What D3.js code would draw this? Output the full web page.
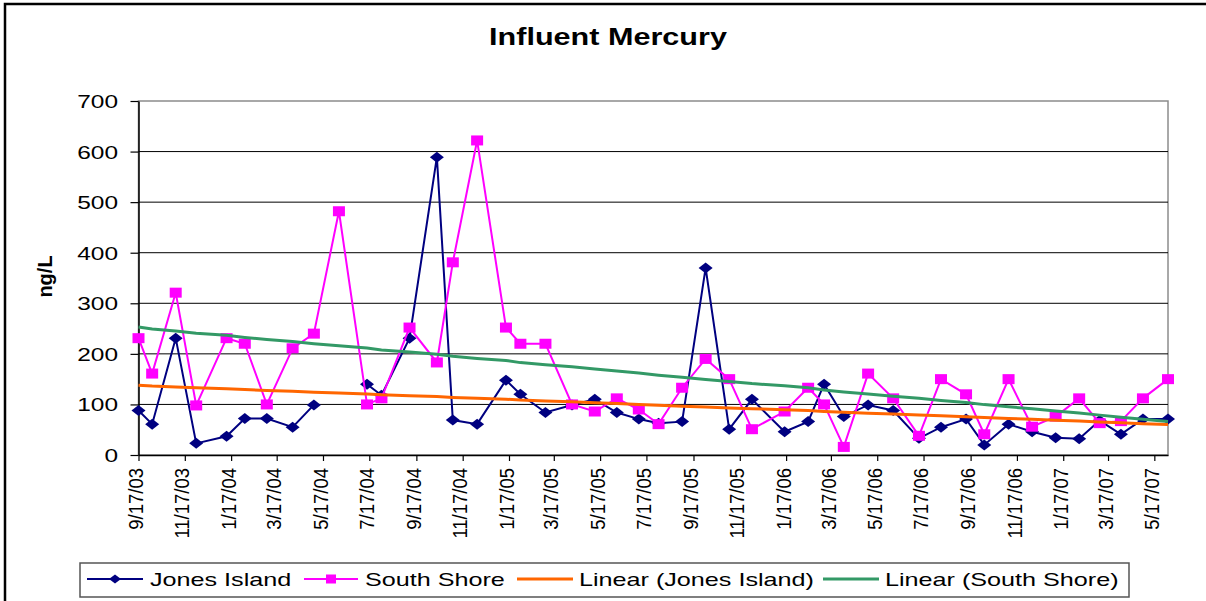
<!DOCTYPE html>
<html>
<head>
<meta charset="utf-8">
<script src="https://cdn.jsdelivr.net/npm/d3@7"></script>
<style>
  body { margin: 0; background: #fff; }
  svg text { font-family: "Liberation Sans", Arial, sans-serif; }
</style>
</head>
<body>
<svg id="plot" width="1206" height="601"></svg>
<script>
// sample dates (yyyy-mm-dd)
const sampleDates = ['2003-09-17','2003-10-05','2003-11-05','2003-12-02','2004-01-11','2004-02-04','2004-03-04','2004-04-07',
  '2004-05-05','2004-06-07','2004-07-14','2004-08-02','2004-09-08','2004-10-14','2004-11-04','2004-12-06',
  '2005-01-13','2005-02-01','2005-03-06','2005-04-10','2005-05-10','2005-06-08','2005-07-07','2005-08-02',
  '2005-09-02','2005-10-03','2005-11-03','2005-12-03','2006-01-15','2006-02-15','2006-03-08','2006-04-03',
  '2006-05-05','2006-06-07','2006-07-11','2006-08-09','2006-09-11','2006-10-05','2006-11-06','2006-12-07',
  '2007-01-07','2007-02-07','2007-03-06','2007-04-03','2007-05-02','2007-06-04']

const jonesIsland = [88,61,231,23,37,72,72,55,99,null,140,118,231,589,69,61,
  148,120,84,99,110,84,71,63,66,370,51,110,46,66,140,76,
  99,88,33,55,71,20,61,46,34,32,68,41,71,71]

const southShore = [231,161,321,98,231,220,100,211,240,482,100,112,252,183,381,622,
  252,220,220,100,86,112,90,61,133,190,150,51,86,133,100,16,
  161,112,38,150,120,41,150,56,76,112,63,67,112,150]

const xTickLabels = ['9/17/03','11/17/03','1/17/04','3/17/04','5/17/04','7/17/04','9/17/04','11/17/04',
  '1/17/05','3/17/05','5/17/05','7/17/05','9/17/05','11/17/05','1/17/06','3/17/06','5/17/06','7/17/06',
  '9/17/06','11/17/06','1/17/07','3/17/07','5/17/07']
const yTicks = [0,100,200,300,400,500,600,700]

const seriesNames = ['Jones Island','South Shore','Linear (Jones Island)','Linear (South Shore)']
const colors = {jones:'#000080', south:'#ff00ff', jonesTrend:'#ff6600', southTrend:'#339966'}

const SX = 1.36 // the picture is stretched sideways

const parseDate = d3.timeParse('%Y-%m-%d')
const parseTick = d3.timeParse('%m/%d/%y')
const dates = sampleDates.map(parseDate)
const tickDates = xTickLabels.map(parseTick)

const margin = {left: 138.5, right: 1168, top: 101, bottom: 455}

const svg = d3.select('#plot')

// outer chart border (top and left visible)
svg.append('path')
  .attr('d', 'M5,601 L5,4 L1206,4')
  .attr('fill', 'none')
  .attr('stroke', '#000')
  .attr('stroke-width', 2.5)

const x = d3.scaleTime()
  .domain([dates[0], dates[dates.length-1]])
  .range([margin.left, margin.right])
const y = d3.scaleLinear()
  .domain([0, 700])
  .range([margin.bottom, margin.top])

// plot area border
svg.append('rect')
  .attr('x', margin.left).attr('y', margin.top)
  .attr('width', margin.right - margin.left).attr('height', margin.bottom - margin.top)
  .attr('fill', '#fff').attr('stroke', '#8c8c8c').attr('stroke-width', 1.5)

// gridlines
svg.selectAll('.grid')
  .data(yTicks.filter(d => d > 0 && d < 700))
  .enter().append('line')
    .attr('x1', margin.left).attr('x2', margin.right)
    .attr('y1', d => y(d)).attr('y2', d => y(d))
    .attr('stroke', '#000').attr('stroke-width', 1)

// Y axis
const yAxis = svg.append('g')
  .attr('transform', `translate(${margin.left},0)`)
  .call(d3.axisLeft(y).tickValues(yTicks).tickSize(8).tickSizeOuter(0))
yAxis.select('.domain').attr('stroke', '#000').attr('stroke-width', 1.5)
yAxis.selectAll('.tick line').attr('stroke', '#000').attr('stroke-width', 1.2)
yAxis.selectAll('.tick text')
  .attr('x', -20.5 / SX)
  .attr('dy', '0.36em')
  .attr('transform', `scale(${SX},1)`)
  .style('font-size', '18px')
  .attr('fill', '#000')

// X axis
const xAxis = svg.append('g')
  .attr('transform', `translate(0,${margin.bottom})`)
  .call(d3.axisBottom(x).tickValues(tickDates).tickFormat(d3.timeFormat('%-m/%-d/%y')).tickSize(6).tickSizeOuter(0))
xAxis.select('.domain').attr('stroke', '#000').attr('stroke-width', 1.5)
xAxis.selectAll('.tick line').attr('stroke', '#000').attr('stroke-width', 1.2)
xAxis.selectAll('.tick text')
  .attr('y', 0).attr('x', 0).attr('dy', null)
  .attr('text-anchor', 'end')
  .attr('transform', 'translate(-3,13) rotate(-90) scale(1,1.1)')
  .attr('dy', '0.35em')
  .style('font-size', '18.5px')
  .attr('fill', '#000')

// series
const jonesData = dates.map((d, i) => ({date: d, value: jonesIsland[i]}))
const southData = dates.map((d, i) => ({date: d, value: southShore[i]}))

const line = d3.line()
  .defined(d => d.value != null)
  .x(d => x(d.date))
  .y(d => y(d.value))

// Excel style linear trend against point index
const trend = function(values) {
  const pts = values.map((v, i) => [i + 1, v]).filter(p => p[1] != null)
  const mx = d3.mean(pts, p => p[0]), my = d3.mean(pts, p => p[1])
  const b = d3.sum(pts, p => (p[0]-mx)*(p[1]-my)) / d3.sum(pts, p => (p[0]-mx)*(p[0]-mx))
  const a = my - b*mx
  return dates.map((d, i) => ({date: d, value: a + b*(i+1)}))
}

const diamond = 'M0,-5.5 L7,0 L0,5.5 L-7,0 Z'

svg.append('path')
  .datum(jonesData)
  .attr('fill', 'none').attr('stroke', colors.jones).attr('stroke-width', 2)
  .attr('d', line)
svg.selectAll('.jmark')
  .data(jonesData.filter(d => d.value != null))
  .enter().append('path')
    .attr('d', diamond)
    .attr('transform', d => `translate(${x(d.date)},${y(d.value)})`)
    .attr('fill', colors.jones)

svg.append('path')
  .datum(southData)
  .attr('fill', 'none').attr('stroke', colors.south).attr('stroke-width', 2)
  .attr('d', line)
svg.selectAll('.smark')
  .data(southData)
  .enter().append('rect')
    .attr('x', d => x(d.date) - 6).attr('y', d => y(d.value) - 5)
    .attr('width', 12).attr('height', 10)
    .attr('fill', colors.south)

svg.append('path')
  .datum(trend(jonesIsland))
  .attr('fill', 'none').attr('stroke', colors.jonesTrend).attr('stroke-width', 3)
  .attr('d', line)
svg.append('path')
  .datum(trend(southShore))
  .attr('fill', 'none').attr('stroke', colors.southTrend).attr('stroke-width', 3)
  .attr('d', line)

// title
svg.append('text')
  .attr('transform', `translate(608,45) scale(1.33,1)`)
  .attr('text-anchor', 'middle')
  .style('font-size', '23px').style('font-weight', 'bold')
  .text('Influent Mercury')

// y axis title
svg.append('text')
  .attr('transform', 'translate(45,276.5) rotate(-90) scale(1,1.05)')
  .attr('text-anchor', 'middle')
  .attr('dy', '0.35em')
  .style('font-size', '20px').style('font-weight', 'bold')
  .text('ng/L')

// legend
svg.append('rect')
  .attr('x', 80).attr('y', 563).attr('width', 1049).attr('height', 34)
  .attr('fill', '#fff').attr('stroke', '#555').attr('stroke-width', 1.5)

const legendItems = [
  {name: seriesNames[0], color: colors.jones, x1: 87, x2: 143, tx: 150, w: 2, mark: 'diamond'},
  {name: seriesNames[1], color: colors.south, x1: 304, x2: 358, tx: 365, w: 2, mark: 'square'},
  {name: seriesNames[2], color: colors.jonesTrend, x1: 517, x2: 573, tx: 579, w: 3, mark: null},
  {name: seriesNames[3], color: colors.southTrend, x1: 823, x2: 879, tx: 885, w: 3, mark: null}
]
const ly = 579
const lg = svg.selectAll('.legend')
  .data(legendItems)
  .enter().append('g')
lg.append('line')
  .attr('x1', d => d.x1).attr('x2', d => d.x2)
  .attr('y1', ly).attr('y2', ly)
  .attr('stroke', d => d.color).attr('stroke-width', d => d.w)
lg.filter(d => d.mark === 'diamond').append('path')
  .attr('d', 'M0,-4.5 L6,0 L0,4.5 L-6,0 Z')
  .attr('transform', d => `translate(${(d.x1+d.x2)/2},${ly})`)
  .attr('fill', d => d.color)
lg.filter(d => d.mark === 'square').append('rect')
  .attr('x', d => (d.x1+d.x2)/2 - 5).attr('y', ly - 4.5)
  .attr('width', 10).attr('height', 9)
  .attr('fill', d => d.color)
lg.append('text')
  .attr('transform', d => `translate(${d.tx},585.5) scale(${SX},1)`)
  .style('font-size', '18.5px')
  .text(d => d.name)
</script>
</body>
</html>
